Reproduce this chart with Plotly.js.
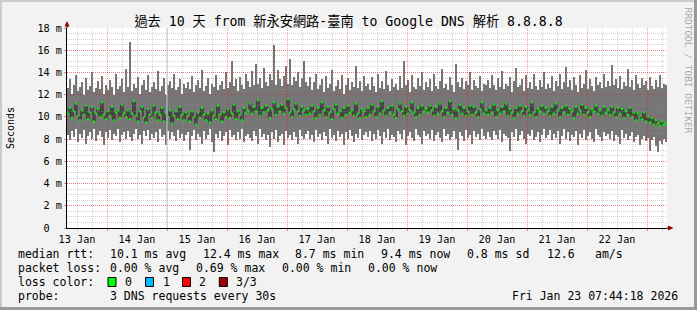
<!DOCTYPE html>
<html><head><meta charset="utf-8">
<script src="https://cdn.plot.ly/plotly-3.0.1.min.js"></script>
<style>
html,body{margin:0;padding:0;background:#f2f2f2;}
#wrap{position:relative;width:697px;height:310px;overflow:hidden;}
#chart{position:absolute;left:0;top:0;width:697px;height:310px;}
.b{position:absolute;}
</style></head><body>
<div id="wrap"><div id="chart"></div>
<div class="b" style="left:0;top:0;width:697px;height:2px;background:#cbcbcb"></div>
<div class="b" style="left:0;top:0;width:2px;height:310px;background:#cbcbcb"></div>
<div class="b" style="right:0;top:0;width:3px;height:310px;background:#999"></div>
<div class="b" style="left:0;bottom:0;width:697px;height:3px;background:#999"></div>
</div>
<script>
// ---- data (ms), one value per 48-minute column, from 2026-01-13 08:00 ----
const startTime = '2026-01-13 08:00:00';
const endTime = '2026-01-23 08:00:00';
const stepMinutes = 48;

const smokeMax = [
12.6,13.4,12.1,12.9,13.8,12.3,12.7,13.1,12.0,13.5,12.4,12.8,14.0,12.2,12.6,13.2,12.5,13.7,12.1,12.9,12.4,13.3,12.7,12.0,13.9,12.5,12.8,13.4,12.2,14.3,
12.7,16.7,12.3,13.0,12.6,13.6,12.1,12.9,13.3,12.4,13.8,12.2,12.7,13.1,12.5,14.1,12.3,12.8,13.5,12.0,12.9,13.2,12.6,13.9,12.4,12.7,13.4,12.1,13.0,12.6,
13.1,12.5,13.7,12.2,12.9,13.3,12.6,14.2,12.3,12.8,13.5,12.1,13.0,12.7,13.8,12.4,12.9,13.2,12.5,14.0,12.6,13.1,15.0,12.8,13.4,12.3,13.6,12.9,12.5,13.9,
13.2,12.7,14.1,12.9,14.8,13.0,13.5,12.6,14.4,13.1,12.8,13.9,13.3,16.5,12.9,14.2,13.4,12.8,13.7,14.6,13.0,15.2,12.9,13.6,13.2,14.0,12.7,13.5,15.0,13.1,
12.8,13.6,12.4,13.1,13.9,12.5,12.9,13.4,12.2,13.7,12.6,13.0,14.2,12.3,12.8,13.3,12.5,13.8,12.1,12.9,13.5,12.4,13.1,12.7,14.6,12.6,13.2,12.3,13.7,12.8,
13.0,12.4,13.6,12.8,12.2,13.9,12.6,13.2,12.5,14.1,12.9,12.3,13.4,12.7,13.0,12.4,13.7,12.6,15.0,12.9,13.3,12.2,13.8,12.7,12.5,13.5,12.8,14.0,12.4,13.1,
12.7,13.4,12.3,13.9,12.8,12.5,13.2,14.3,12.6,13.0,12.4,13.6,12.9,12.2,14.8,13.1,12.7,13.5,12.5,13.2,12.9,14.0,12.4,13.3,12.8,12.6,13.7,12.3,13.0,12.9,
13.3,12.6,13.8,12.9,12.4,13.5,12.7,14.1,12.5,13.0,12.8,13.6,12.2,13.2,14.4,12.7,12.9,13.4,12.3,13.8,12.6,13.1,12.5,13.9,12.8,12.4,13.3,12.7,14.0,12.5,
13.0,12.6,13.7,12.3,13.2,12.8,13.9,12.5,13.1,14.5,12.7,13.3,12.4,13.6,12.9,12.2,13.8,12.6,13.0,14.2,12.5,13.4,12.8,12.3,13.6,12.9,13.1,12.6,13.9,12.7,
13.2,12.8,14.7,12.9,13.4,12.6,13.7,12.5,13.1,12.8,14.3,12.7,13.3,12.4,13.8,13.0,12.6,13.5,12.9,13.2,12.4,13.6,12.8,12.5,13.3,12.7,13.8,12.6,13.0,12.9];

const smokeMin = [
8.4,7.9,8.7,8.2,8.9,7.7,8.5,8.1,8.8,7.6,8.3,8.6,8.0,8.9,7.8,8.4,8.7,8.2,7.5,8.6,8.1,8.8,7.9,8.5,8.3,8.9,7.7,8.4,8.6,8.0,
8.7,8.2,7.8,8.5,8.9,8.0,8.4,7.6,8.7,8.3,8.8,7.9,8.5,8.1,8.6,7.7,8.9,8.2,8.4,7.5,8.7,8.0,8.6,8.3,7.8,8.8,8.1,8.5,7.8,8.4,
8.6,7.0,8.3,8.8,7.9,8.5,8.2,7.6,8.7,8.0,8.4,8.9,7.7,6.8,8.5,8.1,8.7,7.8,8.3,8.6,7.5,8.8,8.2,8.4,7.9,8.6,8.0,8.9,7.7,8.3,
8.5,8.1,7.8,8.7,8.3,7.6,8.9,8.2,8.5,7.9,8.4,7.3,8.6,8.0,8.8,7.7,8.3,8.5,7.5,8.7,8.1,8.4,7.9,8.6,8.2,7.6,8.8,8.3,8.0,8.5,
8.7,8.0,8.4,7.7,8.8,8.2,8.5,7.9,8.6,8.3,7.6,8.9,8.1,8.4,7.8,8.7,8.2,8.5,7.5,8.6,8.0,8.8,8.3,7.7,8.5,8.1,8.9,7.9,8.4,8.6,
8.2,8.7,7.8,8.5,8.0,8.8,8.3,7.6,8.6,8.1,8.9,7.9,8.4,8.2,7.7,8.7,8.5,8.0,8.8,7.5,8.3,8.6,8.1,7.8,8.9,8.4,8.2,7.6,8.7,8.3,
8.5,8.0,8.8,7.8,8.4,8.6,8.1,7.7,8.9,8.3,8.5,7.9,8.2,8.7,8.0,7.0,8.6,8.3,7.8,8.8,8.1,8.4,7.6,8.7,8.2,8.5,7.9,8.9,8.3,8.0,
8.6,8.2,7.9,8.7,8.4,8.0,8.8,7.7,8.5,8.3,8.1,6.9,8.6,8.2,8.9,7.8,8.4,8.7,8.0,7.6,8.5,8.3,8.8,7.9,8.2,8.6,7.7,8.4,8.9,8.1,
8.4,8.8,7.9,8.5,8.1,8.7,7.6,8.3,8.9,8.0,8.6,7.8,8.4,8.2,8.7,7.5,8.5,8.1,8.8,7.9,8.3,8.6,8.0,7.7,8.9,8.4,8.2,7.8,8.6,8.3,
8.5,8.0,8.7,7.8,8.4,8.2,7.6,8.8,8.1,8.5,7.9,8.3,8.6,7.7,8.2,8.4,7.5,8.0,8.3,7.8,8.1,6.9,7.9,8.2,7.4,6.8,7.8,7.6,8.0,7.7];

const medianRtt = [
10.3,10.8,9.9,10.5,11.2,10.1,9.7,10.6,10.2,11.0,9.8,10.4,10.9,9.6,10.3,10.7,10.0,11.3,10.2,9.8,10.5,10.1,10.9,9.7,10.4,10.6,9.9,11.1,10.3,10.0,
10.6,9.8,10.3,11.4,10.1,9.6,10.5,10.9,10.0,9.5,10.7,10.2,9.9,11.0,10.4,9.7,10.2,10.8,9.6,10.3,10.0,10.6,9.4,10.1,10.5,9.8,10.9,10.2,9.7,10.4,
10.1,9.6,10.5,10.0,9.3,10.4,9.9,10.8,10.2,9.7,10.3,9.5,10.6,10.1,9.8,11.0,10.2,9.6,10.4,10.0,10.7,9.9,10.3,11.1,9.8,10.5,10.2,9.7,10.8,10.4,
10.6,11.2,10.3,10.9,10.5,11.5,10.1,10.8,10.4,11.0,10.6,9.9,10.7,11.3,10.2,10.9,10.5,11.1,10.3,10.8,11.6,10.4,10.0,10.7,11.2,10.5,10.1,10.9,10.6,10.2,
10.7,10.3,11.0,10.5,9.9,10.8,10.2,11.3,10.6,10.0,10.9,10.4,9.8,10.7,11.1,10.3,10.5,9.9,10.8,10.2,11.0,10.4,10.6,10.1,11.2,10.3,9.9,10.7,10.5,10.0,
10.8,10.2,11.1,10.5,10.0,10.9,10.3,11.4,10.6,10.1,10.8,10.4,11.0,10.2,9.9,10.7,11.2,10.5,10.1,10.9,10.3,10.6,11.3,10.4,10.0,10.8,10.2,11.0,10.5,10.7,
10.4,11.0,10.6,10.1,10.9,10.3,11.2,10.5,10.0,10.8,10.4,11.4,10.2,10.7,9.9,10.6,11.1,10.3,10.8,10.1,10.5,11.0,10.2,10.9,10.4,10.0,10.7,11.3,10.3,10.6,
10.2,10.8,10.4,11.1,10.0,10.6,10.3,10.9,10.5,11.2,10.1,10.7,10.4,9.9,10.8,10.3,11.0,10.5,10.1,10.9,10.6,10.2,11.3,10.4,10.0,10.7,10.5,11.0,10.3,10.8,
10.5,10.1,10.9,10.3,11.2,10.6,10.0,10.8,10.4,11.0,10.2,10.7,10.5,9.9,10.9,10.3,10.6,11.1,10.2,10.8,10.4,10.0,10.7,10.5,11.0,10.3,10.6,10.1,10.9,10.4,
10.6,10.2,10.9,10.4,10.0,10.8,10.3,10.7,9.9,10.5,10.2,10.8,10.0,10.4,9.7,10.3,10.1,9.8,10.4,9.6,10.0,9.5,9.9,9.3,9.7,9.4,9.2,9.6,9.3,9.4];

const yTickVals = [0,2,4,6,8,10,12,14,16,18];
const yTickText = ['0\u00a0\u00a0','2 m','4 m','6 m','8 m','10 m','12 m','14 m','16 m','18 m'];
const markerDay = '2026-01-15 00:00:00';

const titleText = '過去 10 天 from 新永安網路-臺南 to Google DNS 解析 8.8.8.8';
const legendRows = [
  [['median rtt:',16],['10.1 ms avg',107.7],['12.4 ms max',201],['8.7 ms min',293.3],['9.4 ms now',379.3],['0.8 ms sd',465],['12.6',545],['am/s',593.3]],
  [['packet loss:',16],['0.00 % avg',107.7],['0.69 % max',194],['0.00 % min',280],['0.00 % now',366]],
  [['loss color:',16],['0',123.3],['1',161],['2',197],['3/3',234.3]],
  [['probe:',16],['3 DNS requests every 30s',107.7]]
];
const lossColors = [['#00ff00',108],['#00b8ff',145.5],['#ff0000',182.5],['#a00000',219.3]];
const stampText = 'Fri Jan 23 07:44:18 2026';

// ---- build ----
const t0 = Date.UTC(2026,0,13,8,0,0);
const stepMs = stepMinutes*60000;
function fmt(ms){ return new Date(ms).toISOString().slice(0,19).replace('T',' '); }
const xs = smokeMax.map((_,i)=>fmt(t0 + (i+0.5)*stepMs));
const spans = smokeMax.map((v,i)=>v - smokeMin[i]);

const MONO = 'DejaVu Sans Mono, Noto Sans CJK TC, monospace';
const L = 67, T = 28, W = 600, H = 200;
const px = x => (x - L)/W;
const py = y => (T + H - y)/H;

const traces = [
  {type:'bar', x:xs, y:spans, base:smokeMin, width:stepMs, xaxis:'x', yaxis:'y',
   marker:{color:'#767676', line:{width:0}}, hoverinfo:'skip'},
  {type:'scatter', mode:'lines', x:xs, y:medianRtt, xaxis:'x', yaxis:'y',
   line:{color:'#141414', width:1, shape:'hvh'}, hoverinfo:'skip'},
  {type:'scatter', mode:'markers', x:xs, y:medianRtt, xaxis:'x', yaxis:'y',
   marker:{color:'#00ee00', size:2.2, symbol:'square', line:{width:0}}, hoverinfo:'skip'},
  {type:'scatter', mode:'markers', x:[startTime], y:[0], xaxis:'x2', yaxis:'y2', hoverinfo:'skip',
   marker:{opacity:0}}
];

const annotations = [];
const LF = 11.5;
legendRows.forEach((row,r)=>{
  const yc = 254 + r*14;
  row.forEach(([txt,x])=>{
    annotations.push({xref:'paper',yref:'paper',x:px(x),y:py(yc),xanchor:'left',yanchor:'middle',
      text:txt.replace(/ /g,'\u00a0'),showarrow:false,font:{family:MONO,size:LF,color:'#000'}});
  });
});
annotations.push({xref:'paper',yref:'paper',x:px(680),y:py(296),xanchor:'right',yanchor:'middle',
  text:stampText.replace(/ /g,'\u00a0'),showarrow:false,font:{family:MONO,size:LF,color:'#000'}});
annotations.push({xref:'paper',yref:'paper',x:px(688.5),y:py(70),xanchor:'center',yanchor:'middle',
  text:'RRDTOOL / TOBI OETIKER',textangle:90,showarrow:false,font:{family:MONO,size:9.5,color:'#a8a8a8'}});

const shapes = [
  {type:'rect', xref:'paper', yref:'paper', x0:0, x1:1, y0:0, y1:1, layer:'below', fillcolor:'#ffffff', line:{width:0}},
  {type:'line', xref:'x2', yref:'paper', x0:markerDay, x1:markerDay, y0:0, y1:1, layer:'above',
   line:{color:'#a8d8f0', width:1}},
  {type:'line', xref:'paper', yref:'paper', x0:0, x1:0, y0:1, y1:py(23), layer:'above', line:{color:'#000',width:1}},
  {type:'path', xref:'paper', yref:'paper', layer:'above', line:{width:0}, fillcolor:'#8b0000',
   path:`M ${px(67)} ${py(21)} L ${px(64.5)} ${py(26.5)} L ${px(69.5)} ${py(26.5)} Z`},
  {type:'line', xref:'paper', yref:'paper', x0:1, x1:px(669), y0:0, y1:0, layer:'above', line:{color:'#000',width:1}},
  {type:'path', xref:'paper', yref:'paper', layer:'above', line:{width:0}, fillcolor:'#8b0000',
   path:`M ${px(673.5)} ${py(228)} L ${px(668)} ${py(225.5)} L ${px(668)} ${py(230.5)} Z`}
];
lossColors.forEach(([c,x])=>{
  shapes.push({type:'rect', xref:'paper', yref:'paper', x0:px(x), x1:px(x+8), y0:py(277.5), y1:py(286.5),
    fillcolor:c, line:{color:'#000',width:1}, layer:'above'});
});

const gridDash = '1px,1px';
const MAJ = 'rgba(255,0,0,0.38)';
const MIN = 'rgba(140,140,140,0.4)';
const layout = {
  width:697, height:310,
  margin:{l:L, r:697-L-W, t:T, b:310-T-H, pad:0},
  paper_bgcolor:'#f2f2f2', plot_bgcolor:'rgba(0,0,0,0)',
  showlegend:false, bargap:0,
  title:{text:titleText, font:{family:MONO, size:13.2, color:'#000'}, x:0.5, xref:'container', xanchor:'center',
    y:1-21/310, yref:'container', yanchor:'middle'},
  xaxis:{type:'date', range:[startTime,endTime], domain:[0,1], anchor:'y', visible:false, fixedrange:true},
  yaxis:{range:[0,18], domain:[0,1], anchor:'x', visible:false, fixedrange:true},
  xaxis2:{type:'date', range:[startTime,endTime], domain:[0,1], anchor:'y2', fixedrange:true,
    tick0:'2026-01-13', dtick:86400000, tickformat:'%d %b', ticklabelmode:'period',
    showgrid:true, gridcolor:MAJ, griddash:gridDash, gridwidth:1,
    ticks:'outside', ticklen:2, tickcolor:'#f08080',
    showline:true, linecolor:'#000', linewidth:1, zeroline:false,
    tickfont:{family:MONO, size:10.2, color:'#000'},
    minor:{dtick:21600000, tick0:'2026-01-13', showgrid:true, gridcolor:MIN, griddash:gridDash,
      ticks:'outside', ticklen:2, tickcolor:'#cccccc'}},
  yaxis2:{range:[0,18], domain:[0,1], anchor:'x2', fixedrange:true,
    tickvals:yTickVals, ticktext:yTickText,
    showgrid:true, gridcolor:MAJ, griddash:gridDash, gridwidth:1,
    ticks:'outside', ticklen:2, tickcolor:'#f08080',
    showline:true, linecolor:'#000', linewidth:1, zeroline:false,
    tickfont:{family:MONO, size:10.2, color:'#000'},
    title:{text:'Seconds', font:{family:MONO, size:10, color:'#000'}, standoff:20},
    minor:{dtick:0.5, showgrid:true, gridcolor:MIN, griddash:gridDash}},
  annotations:annotations, shapes:shapes
};

Plotly.newPlot('chart', traces, layout, {staticPlot:true, displayModeBar:false});
</script>
</body></html>
